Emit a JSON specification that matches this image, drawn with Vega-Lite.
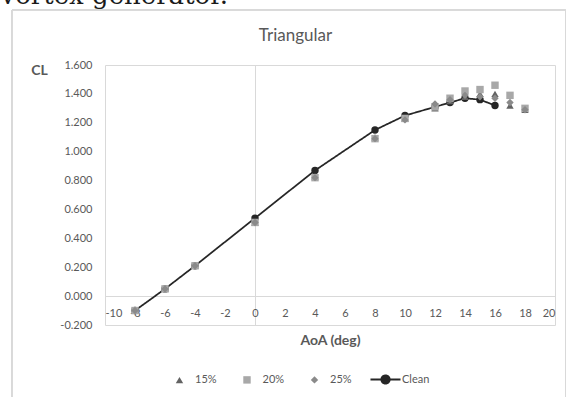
{
  "$schema": "https://vega.github.io/schema/vega-lite/v6.json",
  "autosize": "none",
  "padding": {"left": 105, "top": 65, "right": 20, "bottom": 72},
  "width": 450,
  "height": 260,
  "background": "white",
  "config": {
    "font": "Lato",
    "view": {"stroke": "#d9d9d9", "strokeWidth": 1},
    "locale": {"number": {"decimal": ".", "thousands": ",", "grouping": [3], "currency": ["$", ""], "minus": "-"}}
  },
  "data": {
    "values": [
      {"s": "15%", "aoa": -8, "cl": -0.10}, {"s": "15%", "aoa": -6, "cl": 0.05}, {"s": "15%", "aoa": -4, "cl": 0.21},
      {"s": "15%", "aoa": 0, "cl": 0.51}, {"s": "15%", "aoa": 4, "cl": 0.83}, {"s": "15%", "aoa": 8, "cl": 1.10},
      {"s": "15%", "aoa": 10, "cl": 1.23}, {"s": "15%", "aoa": 12, "cl": 1.30}, {"s": "15%", "aoa": 13, "cl": 1.35},
      {"s": "15%", "aoa": 14, "cl": 1.38}, {"s": "15%", "aoa": 15, "cl": 1.40}, {"s": "15%", "aoa": 16, "cl": 1.40},
      {"s": "15%", "aoa": 17, "cl": 1.32}, {"s": "15%", "aoa": 18, "cl": 1.29},
      {"s": "20%", "aoa": -8, "cl": -0.10}, {"s": "20%", "aoa": -6, "cl": 0.05}, {"s": "20%", "aoa": -4, "cl": 0.21},
      {"s": "20%", "aoa": 0, "cl": 0.51}, {"s": "20%", "aoa": 4, "cl": 0.82}, {"s": "20%", "aoa": 8, "cl": 1.09},
      {"s": "20%", "aoa": 10, "cl": 1.23}, {"s": "20%", "aoa": 12, "cl": 1.31}, {"s": "20%", "aoa": 13, "cl": 1.37},
      {"s": "20%", "aoa": 14, "cl": 1.42}, {"s": "20%", "aoa": 15, "cl": 1.43}, {"s": "20%", "aoa": 16, "cl": 1.46},
      {"s": "20%", "aoa": 17, "cl": 1.39}, {"s": "20%", "aoa": 18, "cl": 1.30},
      {"s": "25%", "aoa": -8, "cl": -0.10}, {"s": "25%", "aoa": -6, "cl": 0.05}, {"s": "25%", "aoa": -4, "cl": 0.21},
      {"s": "25%", "aoa": 0, "cl": 0.51}, {"s": "25%", "aoa": 4, "cl": 0.82}, {"s": "25%", "aoa": 8, "cl": 1.09},
      {"s": "25%", "aoa": 10, "cl": 1.22}, {"s": "25%", "aoa": 12, "cl": 1.33}, {"s": "25%", "aoa": 13, "cl": 1.36},
      {"s": "25%", "aoa": 14, "cl": 1.39}, {"s": "25%", "aoa": 15, "cl": 1.38}, {"s": "25%", "aoa": 16, "cl": 1.37},
      {"s": "25%", "aoa": 17, "cl": 1.34}, {"s": "25%", "aoa": 18, "cl": 1.29},
      {"s": "Clean", "aoa": -8, "cl": -0.10}, {"s": "Clean", "aoa": -6, "cl": 0.05}, {"s": "Clean", "aoa": -4, "cl": 0.21},
      {"s": "Clean", "aoa": 0, "cl": 0.54}, {"s": "Clean", "aoa": 4, "cl": 0.87}, {"s": "Clean", "aoa": 8, "cl": 1.15},
      {"s": "Clean", "aoa": 10, "cl": 1.25}, {"s": "Clean", "aoa": 12, "cl": 1.31}, {"s": "Clean", "aoa": 13, "cl": 1.34},
      {"s": "Clean", "aoa": 14, "cl": 1.37}, {"s": "Clean", "aoa": 15, "cl": 1.36}, {"s": "Clean", "aoa": 16, "cl": 1.32}
    ]
  },
  "resolve": {"axis": {"x": "independent", "y": "independent"}},
  "layer": [
    {
      "mark": {"type": "rect", "fill": "transparent", "stroke": "#d9d9d9", "strokeWidth": 1},
      "encoding": {
        "x": {"datum": -16.2, "type": "quantitative", "axis": null, "scale": {"domain": [-10, 20], "nice": false, "zero": false}},
        "x2": {"datum": 20.7},
        "y": {"datum": 1.98, "type": "quantitative", "axis": null, "scale": {"domain": [-0.2, 1.6], "nice": false, "zero": false}},
        "y2": {"datum": -0.72}
      }
    },
    {
      "transform": [{"filter": "datum.s === 'Clean'"}],
      "mark": {"type": "line", "color": "#262626", "strokeWidth": 1.75},
      "encoding": {
        "x": {"field": "aoa", "type": "quantitative", "axis": null},
        "y": {"field": "cl", "type": "quantitative", "axis": null},
        "strokeDash": {"field": "s", "type": "nominal", "scale": {"domain": ["Clean"], "range": [[1, 0]]},
          "legend": {"orient": "none", "legendX": 275, "legendY": 309, "direction": "horizontal", "title": null,
            "labelFontSize": 11, "labelColor": "#595959", "labelOffset": 11, "padding": 0,
            "symbolType": "M-4.05,0H4.05M-1.1,0A1.1,1.1 0 1,1 1.1,0A1.1,1.1 0 1,1 -1.1,0Z",
            "symbolSize": 55, "symbolStrokeColor": "#262626", "symbolFillColor": "#262626", "symbolStrokeWidth": 2, "symbolOpacity": 1}}
      }
    },
    {
      "transform": [{"filter": "datum.s === 'Clean'"}],
      "mark": {"type": "point", "shape": "circle", "filled": true, "size": 55, "color": "#262626", "opacity": 1},
      "encoding": {
        "x": {"field": "aoa", "type": "quantitative",
          "axis": {"orient": "top", "labels": false, "ticks": false, "domain": false, "grid": false,
            "title": "vortex generator.", "titleX": -105, "titleY": -62, "titleAlign": "left", "titleBaseline": "alphabetic",
            "titleFont": "DejaVu Serif", "titleFontSize": 26, "titleFontWeight": "normal", "titleColor": "#1a1a1a"}},
        "y": {"field": "cl", "type": "quantitative",
          "axis": {"orient": "right", "labels": false, "ticks": false, "domain": false, "grid": false,
            "title": "Triangular", "titleX": -260, "titleY": -30, "titleAngle": 0, "titleAlign": "center", "titleBaseline": "middle",
            "titleFontSize": 17, "titleFontWeight": "normal", "titleColor": "#595959"}}
      }
    },
    {
      "transform": [{"filter": "datum.s !== 'Clean'"}],
      "mark": {"type": "point", "filled": true, "size": 55, "opacity": 1},
      "encoding": {
        "x": {"field": "aoa", "type": "quantitative", "scale": {"domain": [-10, 20], "nice": false, "zero": false},
          "axis": {"orient": "bottom", "offset": -29, "values": [-10, -8, -6, -4, -2, 0, 2, 4, 6, 8, 10, 12, 14, 16, 18, 20],
            "domain": false, "ticks": false, "labelPadding": 11, "labelFontSize": 11, "labelColor": "#595959",
            "grid": true, "gridColor": {"condition": {"test": "datum.value === 0", "value": "#d9d9d9"}, "value": "transparent"},
            "title": "AoA (deg)", "titleX": 225, "titleY": 44, "titleAlign": "center", "titleBaseline": "middle",
            "titleFontSize": 14, "titleFontWeight": "bold", "titleColor": "#595959"}},
        "y": {"field": "cl", "type": "quantitative", "scale": {"domain": [-0.2, 1.6], "nice": false, "zero": false},
          "axis": {"orient": "left", "values": [-0.2, 0, 0.2, 0.4, 0.6, 0.8, 1.0, 1.2, 1.4, 1.6], "format": ".3f",
            "domain": false, "ticks": false, "labelPadding": 13, "labelFontSize": 11, "labelColor": "#595959",
            "grid": true, "gridColor": {"condition": {"test": "datum.value === 0", "value": "#d9d9d9"}, "value": "transparent"},
            "title": "CL", "titleX": -66, "titleY": 5, "titleAngle": 0, "titleAlign": "center", "titleBaseline": "middle",
            "titleFontSize": 14, "titleFontWeight": "bold", "titleColor": "#595959"}},
        "shape": {"field": "s", "type": "nominal",
          "scale": {"domain": ["15%", "20%", "25%"], "range": ["triangle-up", "square", "diamond"]},
          "legend": {"orient": "none", "legendX": 69, "legendY": 309, "direction": "horizontal", "title": null,
            "labelFontSize": 11, "labelColor": "#595959", "symbolSize": 55, "labelOffset": 10, "columnPadding": 22.5, "padding": 0,
            "symbolOpacity": 1}},
        "color": {"field": "s", "type": "nominal",
          "scale": {"domain": ["15%", "20%", "25%"], "range": ["#636363", "#a8a8a8", "#8a8a8a"]},
          "legend": {"orient": "none", "legendX": 69, "legendY": 309, "direction": "horizontal", "title": null,
            "labelFontSize": 11, "labelColor": "#595959", "symbolSize": 55, "labelOffset": 10, "columnPadding": 22.5, "padding": 0,
            "symbolOpacity": 1}}
      }
    }
  ]
}
